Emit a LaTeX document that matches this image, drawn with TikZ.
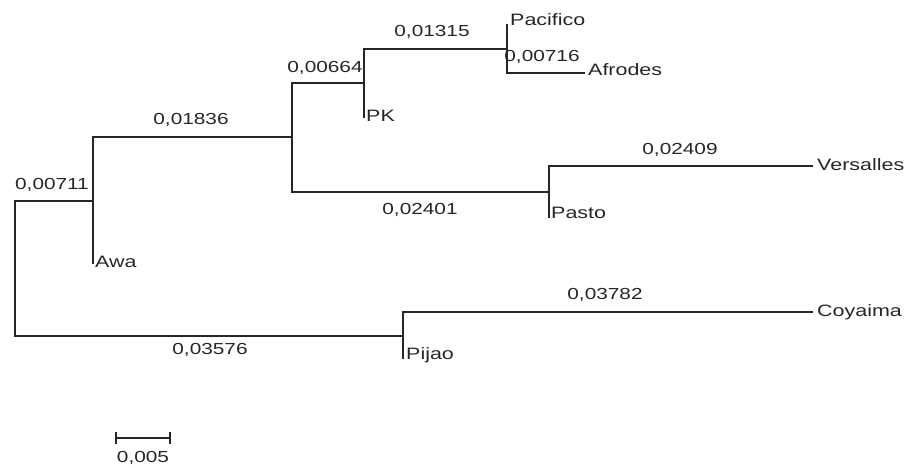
\documentclass[tikz,border=0pt]{standalone}
\usepackage{fontspec}
\setmainfont[FakeStretch=1.3]{Liberation Sans}
\begin{document}
\begin{tikzpicture}[x=1pt,y=-1pt,
  br/.style={draw=black!85,line width=1.3pt},
  leaf/.style={anchor=west,inner sep=0pt,text=black!85,font=\fontsize{16.5}{18}\selectfont},
  blen/.style={inner sep=0pt,text=black!85,font=\fontsize{16}{18}\selectfont}]
\useasboundingbox (0,0) rectangle (914,467);
% internal nodes
\coordinate (r) at (15,268);
\coordinate (A) at (93,201);
\coordinate (B) at (292,137);
\coordinate (C) at (364,83);
\coordinate (D) at (507,49);
\coordinate (E) at (549,192);
\coordinate (F) at (403,336);
% leaf ends
\coordinate (awaEnd) at (93,264);
\coordinate (pkEnd) at (364,118);
\coordinate (pacEnd) at (507,24);
\coordinate (afrEnd) at (585,73);
\coordinate (verEnd) at (813,166);
\coordinate (pasEnd) at (549,218);
\coordinate (coyEnd) at (813,312);
\coordinate (pijEnd) at (403,359);
% branches
\draw[br] (r) |- (A);
\draw[br] (r) |- (F);
\draw[br] (A) |- (B);
\draw[br] (A) -- (awaEnd);
\draw[br] (B) |- (C);
\draw[br] (B) |- (E);
\draw[br] (C) |- (D);
\draw[br] (C) -- (pkEnd);
\draw[br] (D) -- (pacEnd);
\draw[br] (D) |- (afrEnd);
\draw[br] (E) |- (verEnd);
\draw[br] (E) -- (pasEnd);
\draw[br] (F) |- (coyEnd);
\draw[br] (F) -- (pijEnd);
% leaf labels
\node[leaf] (pacifico) at (510,20) {Pacifico};
\node[leaf] (afrodes) at (588,70) {Afrodes};
\node[leaf] (pk) at (366,116) {PK};
\node[leaf] (versalles) at (817,165) {Versalles};
\node[leaf] (pasto) at (551,213) {Pasto};
\node[leaf] (awa) at (95,262) {Awa};
\node[leaf] (coyaima) at (817,312) {Coyaima};
\node[leaf] (pijao) at (406,355) {Pijao};
% branch lengths
\node[blen] (l1) at (52,185) {0,00711};
\node[blen] (l2) at (191,120) {0,01836};
\node[blen] (l3) at (325,68) {0,00664};
\node[blen] (l4) at (432,32) {0,01315};
\node[blen] (l5) at (542,57) {0,00716};
\node[blen] (l6) at (680,150) {0,02409};
\node[blen] (l7) at (420,210) {0,02401};
\node[blen] (l8) at (605,295) {0,03782};
\node[blen] (l9) at (210,350) {0,03576};
% scale bar
\coordinate (s1) at (116,438);
\coordinate (s2) at (170,438);
\draw[br,line width=1.1pt] (s1) -- (s2);
\draw[br,line width=1.1pt] ([yshift=-6]s1) -- ([yshift=6]s1);
\draw[br,line width=1.1pt] ([yshift=-6]s2) -- ([yshift=6]s2);
\node[blen] (scale) at (143,458) {0,005};
\end{tikzpicture}
\end{document}
